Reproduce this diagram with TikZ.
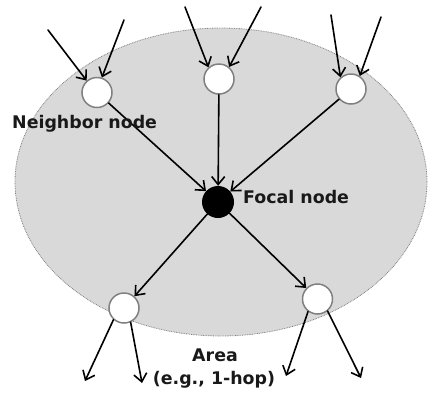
\documentclass[tikz,border=0pt]{standalone}
\usepackage{fontspec}
\setmainfont{DejaVu Sans}
\usetikzlibrary{arrows.meta}
\definecolor{areagray}{RGB}{217,217,217}
\definecolor{rimgray}{RGB}{128,128,128}
\tikzset{
  nb/.style={circle,draw=rimgray,fill=white,line width=1.5pt,minimum size=30pt,inner sep=0pt},
  focal/.style={circle,fill=black,minimum size=32pt,inner sep=0pt},
  arr/.style={line width=1.6pt,line cap=round,-{Straight Barb[length=8pt,width=13pt,line width=1.6pt]}},
  lbl/.style={font=\fontsize{17.4}{20}\selectfont\bfseries,inner sep=0pt,text=black!90}
}
\begin{document}
\begin{tikzpicture}[x=1pt,y=-1pt]
\useasboundingbox (0,0) rectangle (428,392);
% area
\fill[areagray] (221,182) ellipse [x radius=206pt, y radius=154pt];
\draw[rimgray,line width=0.8pt,dash pattern=on 0.8pt off 0.9pt] (221,182) ellipse [x radius=206pt, y radius=154pt];
% nodes
\node[nb] (N1) at (97,92.5) {};
\node[nb] (N2) at (219,79) {};
\node[nb] (N3) at (351,89) {};
\node[focal] (F) at (218,202) {};
\node[nb] (B1) at (124,308) {};
\node[nb] (B2) at (317.5,299) {};
% free ends
\coordinate (a1) at (48,30);
\coordinate (a2) at (124,20);
\coordinate (b1) at (185,7);
\coordinate (b2) at (261,7);
\coordinate (c1) at (331,15);
\coordinate (c2) at (381,17);
\coordinate (d1) at (85,381);
\coordinate (d2) at (142,383);
\coordinate (e1) at (286,376);
\coordinate (e2) at (361,378);
% incoming
\draw[arr] (a1) -- (N1.131);
\draw[arr] (a2) -- (N1.72);
\draw[arr] (b1) -- (N2.132);
\draw[arr] (b2) -- (N2.50);
\draw[arr] (c1) -- (N3.132);
\draw[arr] (c2) -- (N3.56);
% to focal
\draw[arr] (N1) -- (F);
\draw[arr] (N2) -- (F);
\draw[arr] (N3) -- (F);
% from focal
\draw[arr] (F) -- (B1);
\draw[arr] (F) -- (B2);
% outgoing
\draw[arr] (B1.228) -- (d1);
\draw[arr] (B1.295) -- (d2);
\draw[arr] (B2.233) -- (e1);
\draw[arr] (B2.310) -- (e2);
% labels
\node[lbl,anchor=base west] (ln) at (12,128) {Neighbor node};
\node[lbl,anchor=base west] (lf) at (243,203) {Focal node};
\node[lbl,anchor=base] (la) at (215,361) {Area};
\node[lbl,anchor=base] (lh) at (214,384) {(e.g., 1-hop)};
\end{tikzpicture}
\end{document}
